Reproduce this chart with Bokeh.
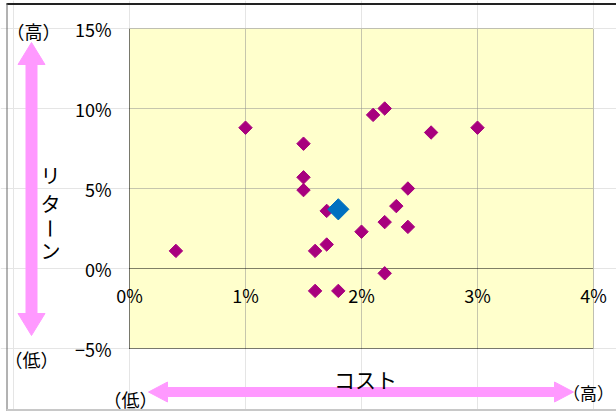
import math
from bokeh.plotting import figure
from bokeh.models import Range1d, BoxAnnotation
from bokeh.core.properties import value
from bokeh.embed import file_html
from bokeh.resources import INLINE

# data
cost = [0.4, 1.0, 1.5, 1.5, 1.5, 1.7, 1.7, 1.6, 2.0, 2.2, 2.3, 2.4, 2.4, 2.1, 2.2, 2.6, 3.0, 2.2, 1.6, 1.8]
ret = [1.1, 8.8, 7.8, 5.7, 4.9, 3.6, 1.5, 1.1, 2.3, 2.9, 3.9, 5.0, 2.6, 9.6, 10.0, 8.5, 8.8, -0.3, -1.4, -1.4]
hl_cost = [1.8]
hl_ret = [3.7]
x_ticks = [0, 1, 2, 3, 4]
x_tick_labels = ["0%", "1%", "2%", "3%", "4%"]
y_ticks = [-5, 0, 5, 10, 15]
y_tick_labels = ["\u22125%", "0%", "5%", "10%", "15%"]
x_title = "コスト"
y_title = ["リ", "タ", "ー", "ン"]
high = "（高）"
low = "（低）"

JP = "Noto Sans CJK JP"
W, H = 616, 411
# pixel geometry of the plotting area
PX0, PX1 = 129, 593   # x = 0% .. 4%
PY_TOP, PY_BOT = 28, 348  # y = 15% .. -5%
sx = (PX1 - PX0) / (x_ticks[-1] - x_ticks[0])
sy = (PY_BOT - PY_TOP) / (y_ticks[-1] - y_ticks[0])


def xd(px):
    return x_ticks[0] + (px - PX0) / sx


def yd(py):
    return y_ticks[-1] - (py - PY_TOP) / sy


p = figure(width=W, height=H, output_backend="svg", toolbar_location=None,
           x_range=Range1d(xd(0), xd(W)), y_range=Range1d(yd(H), yd(0)),
           x_axis_location=None, y_axis_location=None,
           min_border=0, min_border_left=0, min_border_right=0,
           min_border_top=0, min_border_bottom=0)
p.outline_line_color = None
p.background_fill_color = "white"
p.border_fill_color = "white"

x0, x1 = x_ticks[0], x_ticks[-1]
y0, y1 = y_ticks[0], y_ticks[-1]

# plot area background
p.add_layout(BoxAnnotation(left=x0, right=x1, bottom=y0, top=y1,
                           fill_color="#FFFFCC", fill_alpha=1.0, line_color=None,
                           level="underlay"))
# grid lines (dotted gray), incl. top and right edges
p.segment(x0=x_ticks[1:], y0=[y0] * (len(x_ticks) - 1), x1=x_ticks[1:], y1=[y1] * (len(x_ticks) - 1),
          line_color="#8C8C8C", line_dash="1 1", line_width=1)
p.segment(x0=[x0] * (len(y_ticks) - 2), y0=y_ticks[2:], x1=[x1] * (len(y_ticks) - 2), y1=y_ticks[2:],
          line_color="#8C8C8C", line_dash="1 1", line_width=1)

# axis lines (black dotted): left edge, bottom edge, zero line
p.segment(x0=[x0, x0, x0], y0=[y0, y0, 0], x1=[x0, x1, x1], y1=[y1, y0, 0],
          line_color="black", line_dash="1 1", line_width=1)

# tick labels
p.text(x=[x0] * len(y_ticks), y=y_ticks, text=y_tick_labels, x_offset=-18,
       text_align="right", text_baseline="middle", text_font=value(JP),
       text_font_size="18px", text_color="black")
p.text(x=x_ticks, y=[yd(294)] * len(x_ticks), text=x_tick_labels,
       text_align="center", text_baseline="middle", text_font=value(JP),
       text_font_size="18px", text_color="black")

# points
p.scatter(cost, ret, marker="square", angle=math.pi / 4, size=9.5,
          fill_color="#A8007E", line_color="#A8007E")
p.scatter(hl_cost, hl_ret, marker="square", angle=math.pi / 4, size=15,
          fill_color="#0070C0", line_color="#0070C0")

pink = "#FF99FF"


def darrow_v(cx, ytop, ybot, hw_shaft, hw_head, hl):
    pts = [(cx, ytop), (cx + hw_head, ytop + hl), (cx + hw_shaft, ytop + hl),
           (cx + hw_shaft, ybot - hl), (cx + hw_head, ybot - hl), (cx, ybot),
           (cx - hw_head, ybot - hl), (cx - hw_shaft, ybot - hl),
           (cx - hw_shaft, ytop + hl), (cx - hw_head, ytop + hl)]
    return [xd(a) for a, b in pts], [yd(b) for a, b in pts]


def darrow_h(cy, xl, xr, hw_shaft, hw_head, hl):
    pts = [(xl, cy), (xl + hl, cy - hw_head), (xl + hl, cy - hw_shaft),
           (xr - hl, cy - hw_shaft), (xr - hl, cy - hw_head), (xr, cy),
           (xr - hl, cy + hw_head), (xr - hl, cy + hw_shaft),
           (xl + hl, cy + hw_shaft), (xl + hl, cy + hw_head)]
    return [xd(a) for a, b in pts], [yd(b) for a, b in pts]


vx, vy = darrow_v(31, 42, 335, 5.5, 13.5, 22)
hx, hy = darrow_h(391.5, 148, 573, 4.5, 10, 19)
p.patches(xs=[vx, hx], ys=[vy, hy], fill_color=pink, line_color=pink)

# texts
p.text(x=[xd(33), xd(31), xd(130)], y=[yd(30), yd(358), yd(398)],
       text=[high, low, low], text_align="center", text_baseline="middle",
       text_font=value(JP), text_font_size="18px", text_color="black")
p.text(x=[xd(588)], y=[yd(392)], text=[high], text_align="center", text_baseline="middle",
       text_font=value(JP), text_font_size="17px", text_color="black")
p.text(x=[xd(50)] * 4, y=[yd(175), yd(203), yd(228), yd(250)], text=y_title,
       angle=[0, 0, -math.pi / 2, 0],
       text_align="center", text_baseline="middle",
       text_font=value(JP), text_font_size="20px", text_color="black")
p.text(x=[xd(365)], y=[yd(378)], text=[x_title], text_align="center", text_baseline="middle",
       text_font=value(JP), text_font_size="21px", text_color="black")

# outer chart border
p.segment(x0=[xd(6), xd(6.5), xd(6)], y0=[yd(3.5), yd(3), yd(409.5)],
          x1=[xd(W), xd(6.5), xd(W)], y1=[yd(3.5), yd(H), yd(409.5)],
          line_color=["#222222", "#666666", "#C8C8C8"], line_width=[2, 1, 2])

open("out.html", "w").write(file_html(p, INLINE))
